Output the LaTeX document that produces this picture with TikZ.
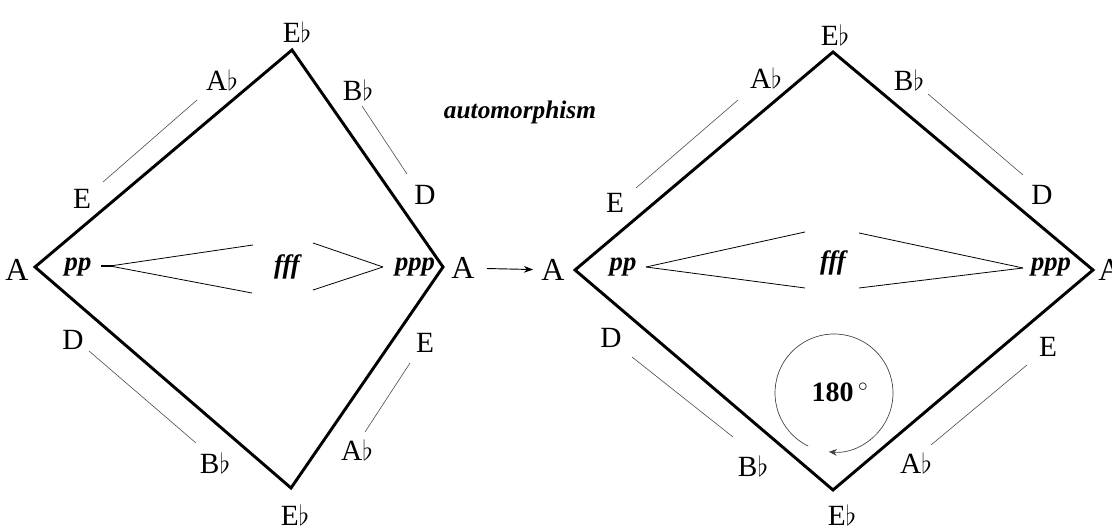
\documentclass[tikz,border=0pt]{standalone}
\usepackage{fontspec}
\setmainfont{Liberation Serif}
\usetikzlibrary{arrows.meta}
\newcommand\flt{\ensuremath{\flat}}
\begin{document}
\begin{tikzpicture}[x=0.75pt,y=0.75pt,
  edge/.style={line width=2.2pt, line join=miter},
  thinln/.style={line width=0.45pt, draw=black!70},
  dyn/.style={line width=0.6pt},
  lab/.style={font=\fontsize{22}{26}\selectfont, inner sep=0pt},
  alab/.style={font=\fontsize{24}{28}\selectfont, inner sep=0pt},
  dynlab/.style={font=\fontsize{20}{24}\selectfont\bfseries\itshape, inner sep=0pt},
  conn/.style={line width=0.7pt, -{Stealth[length=7pt,width=5pt]}},
]
\useasboundingbox (0,0) rectangle (1112,530);

% ---------- left diamond ----------
\coordinate (LT) at (292,480);
\coordinate (LR) at (443,263);
\coordinate (LB) at (291,42);
\coordinate (LL) at (35,263);
\draw[edge] (LT) -- (LR) -- (LB) -- (LL) -- cycle;

\node[lab] (lEbT) at (297,498) {E\flt};
\node[lab] (lAbU) at (222,450) {A\flt};
\node[lab] (lBbU) at (358,440) {B\flt};
\node[lab] (lEU)  at (82,331) {E};
\node[lab] (lDU)  at (425,335) {D};
\node[alab] (lAL) at (17,260) {A};
\node[alab] (lAR) at (463,262) {A};
\node[lab] (lDL)  at (73,190) {D};
\node[lab] (lBbL) at (215,67) {B\flt};
\node[lab] (lEL)  at (425,187) {E};
\node[lab] (lAbL) at (357,80) {A\flt};
\node[lab] (lEbB) at (295,15) {E\flt};

\node[dynlab] (lpp)  at (78,263) {pp};
\node[dynlab] (lfff) at (287,263) {fff};
\node[dynlab] (lppp) at (415,263) {ppp};

\draw[thinln] (103,348) -- (197,430);
\draw[thinln] (362,424) -- (407,356);
\draw[thinln] (89,179) -- (196,87);
\draw[thinln] (410,167) -- (365,98);

\draw[line width=1.4pt] (101,264) -- (113,264);
\draw[dyn] (110,264) -- (253,285);
\draw[dyn] (110,264) -- (252,237);
\draw[dyn] (383,263) -- (313,287);
\draw[dyn] (383,263) -- (313,240);

% ---------- right diamond ----------
\coordinate (RT) at (833,478);
\coordinate (RR) at (1093,260);
\coordinate (RB) at (833,40);
\coordinate (RL) at (575,260);
\draw[edge] (RT) -- (RR) -- (RB) -- (RL) -- cycle;

\node[lab] (rEbT) at (835,495) {E\flt};
\node[lab] (rAbU) at (766,452) {A\flt};
\node[lab] (rBbU) at (909,450) {B\flt};
\node[lab] (rEU)  at (615,327) {E};
\node[lab] (rDU)  at (1042,335) {D};
\node[alab] (rAL) at (553,260) {A};
\node[alab] (rAR) at (1110,260) {A};
\node[lab] (rDL)  at (611,192) {D};
\node[lab] (rEL)  at (1048,183) {E};
\node[lab] (rBbL) at (753,64) {B\flt};
\node[lab] (rAbL) at (916,67) {A\flt};
\node[lab] (rEbB) at (842,15) {E\flt};

\node[dynlab] (rpp)  at (623,263) {pp};
\node[dynlab] (rfff) at (833,267) {fff};
\node[dynlab] (rppp) at (1051,263) {ppp};

\draw[thinln] (636,342) -- (738,430);
\draw[thinln] (928,436) -- (1023,355);
\draw[thinln] (632,173) -- (733,93);
\draw[thinln] (1027,165) -- (931,85);

\draw[dyn] (646,263) -- (805,298);
\draw[dyn] (646,263) -- (805,242);
\draw[dyn] (1023,262) -- (859,297);
\draw[dyn] (1023,262) -- (859,242);

% rotation
\draw[line width=0.5pt, draw=black!75, -{Stealth[length=6pt,width=5pt]}]
  (834,137) ++(244:59) arc[start angle=244, end angle=-95, radius=59];
\node[font=\fontsize{21}{25}\selectfont\bfseries, inner sep=0pt] (deg) at (840,138) {180\,$^{\circ}$};

% automorphism
\node[font=\fontsize{19}{22}\selectfont\bfseries\itshape, inner sep=0pt] (auto) at (520,418) {automorphism};
\draw[conn, shorten <=9pt, shorten >=6pt] (lAR) -- (rAL);
\end{tikzpicture}
\end{document}
